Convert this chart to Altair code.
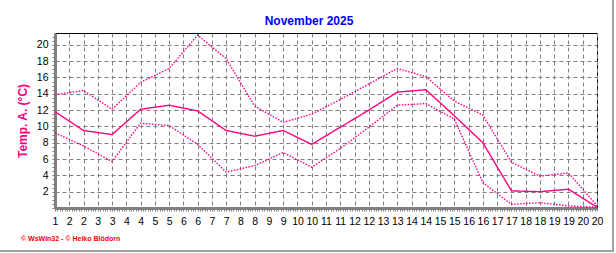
import altair as alt
import pandas as pd

days = list(range(1, 21))
t_max = [13.9, 14.4, 12.1, 15.4, 17.1, 21.2, 18.3, 12.5, 10.5, 11.5,
         13.3, 15.2, 17.1, 16.1, 13.1, 11.4, 5.6, 3.9, 4.3, 0.3]
t_mean = [11.8, 9.5, 9.0, 12.1, 12.6, 11.9, 9.5, 8.8, 9.5, 7.8,
          9.9, 12.0, 14.2, 14.5, 11.3, 8.0, 2.1, 2.0, 2.3, 0.1]
t_min = [9.2, 7.6, 5.7, 10.4, 10.1, 7.8, 4.4, 5.2, 6.8, 5.0,
         7.3, 9.9, 12.6, 12.8, 10.9, 3.1, 0.45, 0.65, 0.25, 0.1]

title_text = "November 2025"
y_title = "Temp. A. (°C)"
footer_text = "© WsWin32 - © Heiko Blödorn"

series_names = ["max", "mean", "min"]
rows = []
for name, vals in zip(series_names, [t_max, t_mean, t_min]):
    for d, v in zip(days, vals):
        rows.append({"day": d, "temp": v, "series": name})
df = pd.DataFrame(rows)

PINK = "#ff0080"
GRAY = "#808080"

x_vals = [round(1 + i / 12, 6) for i in range(19 * 12 + 1)]
y_vals = [i * 0.5 for i in range(0, 43)]

half_test = "abs(datum.value*2 - round(datum.value*2)) < 0.001"
even_test = "abs(datum.value/2 - round(datum.value/2)) < 0.001 && datum.value > 0.1"

x_axis = alt.Axis(
    values=x_vals,
    labelExpr=f"({half_test}) ? format(round(datum.value), 'd') : ''",
    labelOverlap=False,
    labelBound=False,
    labelFlush=False,
    labelFont="Liberation Sans",
    labelFontSize=10.5,
    labelColor="black",
    labelPadding=5,
    labelAngle=0,
    tickColor=GRAY,
    tickSize=3,
    tickWidth=1,
    domainColor=GRAY,
    domainWidth=3,
    grid=True,
    gridColor=GRAY,
    gridDash=[4, 3],
    gridWidth=1,
    gridOpacity={"condition": {"test": half_test, "value": 1}, "value": 0},
    title=None,
)

y_axis = alt.Axis(
    values=y_vals,
    labelExpr=f"({even_test}) ? format(datum.value, 'd') : ''",
    labelOverlap=False,
    labelBound=False,
    labelFont="Liberation Sans",
    labelFontSize=10.5,
    labelColor="black",
    labelPadding=4,
    tickColor=GRAY,
    tickSize=3,
    tickWidth=1,
    domainColor=GRAY,
    domainWidth=3,
    grid=True,
    gridColor=GRAY,
    gridDash=[4, 3],
    gridWidth=1,
    gridOpacity={"condition": {"test": even_test, "value": 1}, "value": 0},
    title=y_title,
    titleColor=PINK,
    titleFont="Liberation Sans",
    titleFontSize=12,
    titleFontWeight="bold",
    titleX=-33,
    titleY=87.5,
    titleAngle=-90,
    titleAlign="center",
    titleBaseline="middle",
)

lines = alt.Chart(df).mark_line(strokeWidth=1.4, clip=False).encode(
    x=alt.X("day:Q", scale=alt.Scale(domain=[1, 20], nice=False, zero=False), axis=x_axis),
    y=alt.Y("temp:Q", scale=alt.Scale(domain=[0, 21.45], nice=False, zero=False), axis=y_axis),
    color=alt.Color("series:N", scale=alt.Scale(domain=series_names, range=[PINK, PINK, PINK]), legend=None),
    strokeDash=alt.StrokeDash("series:N", scale=alt.Scale(domain=series_names,
                              range=[[1.5, 1.5], [1, 0], [1.5, 1.5]]), legend=None),
    detail="series:N",
)

one = pd.DataFrame({"a": [0]})

title_mark = alt.Chart(pd.DataFrame({"t": [title_text]})).mark_text(
    font="Liberation Sans", fontSize=12, fontWeight="bold", color="#0000ff",
    align="center", baseline="middle",
).encode(x=alt.value(254), y=alt.value(-12), text="t:N")

footer_mark = alt.Chart(pd.DataFrame({"t": [footer_text]})).mark_text(
    font="Liberation Sans", fontSize=7, fontWeight="bold", color="#ff0000",
    align="left", baseline="middle",
).encode(x=alt.value(-34), y=alt.value(206), text="t:N")

frame_right = alt.Chart(one).mark_rule(color="#a0a0a0", strokeWidth=2).encode(
    x=alt.value(558), y=alt.value(-33), y2=alt.value(219))
frame_bottom = alt.Chart(one).mark_rule(color="#a0a0a0", strokeWidth=2).encode(
    x=alt.value(-55), x2=alt.value(559), y=alt.value(218))

chart = alt.layer(lines, title_mark, footer_mark, frame_right, frame_bottom).properties(
    width=542, height=175,
    autosize=alt.AutoSizeParams(type="none"),
    padding={"left": 55, "top": 33, "right": 19, "bottom": 45},
    background="white",
).configure_view(stroke="black", strokeWidth=1)

chart.save("out.html", embed_options={"renderer": "svg", "actions": False})
